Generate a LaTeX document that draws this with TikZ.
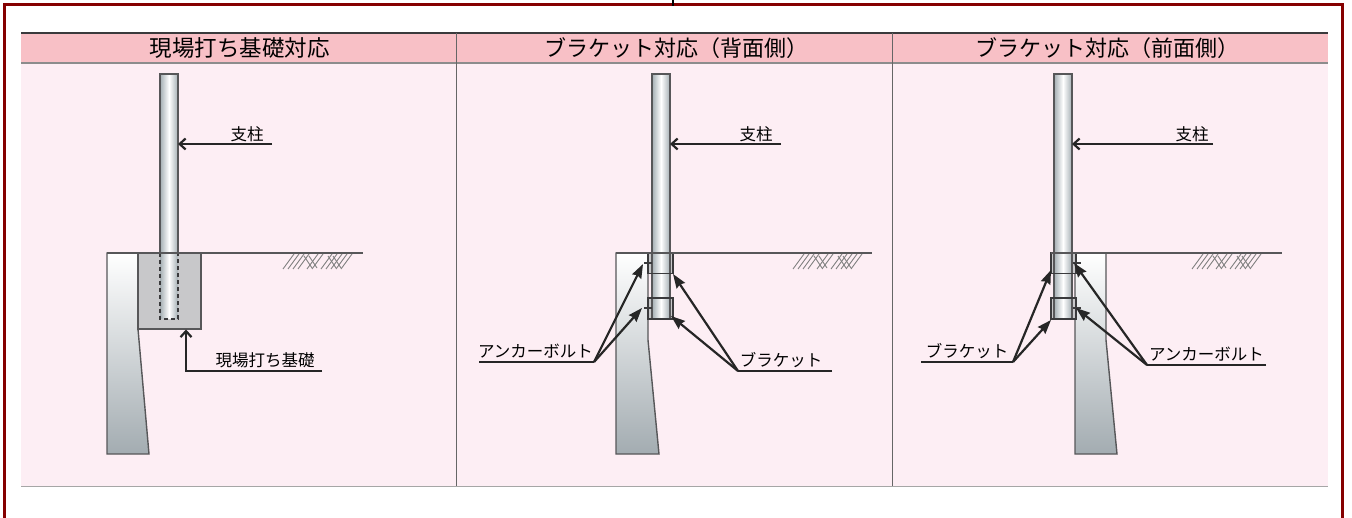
\documentclass[tikz,border=0pt]{standalone}
\usepackage{fontspec}
\newfontfamily\jpfont{Noto Sans CJK JP}
\usetikzlibrary{arrows,arrows.meta,positioning}
\definecolor{framered}{HTML}{850000}
\definecolor{headpink}{HTML}{F8C0C6}
\definecolor{bodypink}{HTML}{FDEEF4}
\definecolor{concrete}{HTML}{C8C8CA}
\definecolor{linegray}{HTML}{3A3A3C}
\definecolor{postgray}{HTML}{A4AEB3}
\definecolor{wallgray}{HTML}{A3ACB1}

\newcommand{\hatchmark}[1]{%
  \foreach \hx in {0,5,10,15,24,29,38,43,48,53,58}
    \draw[hatch] (#1+\hx,269) -- (#1+\hx+11,254);
  \foreach \hx in {21,26,45,50}
    \draw[hatch] (#1+\hx,256) -- (#1+\hx+8,268);
}
\newcommand{\postbar}[3]{%
  \fill[left color=postgray,right color=postgray,middle color=white] (#1,#2) rectangle (#1+18,#3);
  \draw[line width=1.4pt,linegray!85] (#1,#3) |- (#1+18,#2) -- (#1+18,#3);
}

\begin{document}
\begin{tikzpicture}[x=1pt,y=-1pt,>=stealth',font=\jpfont]
  \tikzstyle{lead}=[line width=2.2pt,black!85]
  \tikzstyle{pointer}=[lead,-{Stealth[length=14pt,width=10pt,inset=1.5pt]}]
  \tikzstyle{open pointer}=[lead,-{Straight Barb[length=6pt,width=11pt]}]
  \tikzstyle{hatch}=[line width=.9pt,black!50]
  \tikzstyle{wall}=[line width=1.4pt,linegray!85,shade,shading angle=150,top color=white,bottom color=wallgray]
  \tikzstyle{bracket}=[line width=1.1pt,linegray]
  \tikzstyle{ground}=[line width=1.4pt,linegray!85]
  \tikzstyle{title}=[font=\jpfont\fontsize{22}{24}\selectfont,inner sep=0pt]
  \tikzstyle{label}=[font=\jpfont\fontsize{16.5}{18}\selectfont,inner sep=0pt]

  \useasboundingbox (0,0) rectangle (1352,518);
  \fill[white] (0,0) rectangle (1352,518);

  % table
  \fill[bodypink] (21,63) rectangle (1328,486);
  \fill[headpink] (21,33) rectangle (1328,63);
  \draw[line width=1.1pt,linegray] (21,33) -- (1328,33);
  \draw[line width=1.2pt,black!45] (21,63) -- (1328,63);
  \draw[line width=1.2pt,black!35] (21,486.5) -- (1328,486.5);
  \draw[line width=.9pt,black!60] (456.5,33) -- (456.5,486);
  \draw[line width=.9pt,black!60] (892.5,33) -- (892.5,486);

  \node[title] (head1) at (239.5,48) {\fontsize{22.5}{24}\selectfont 現場打ち基礎対応};
  \node[title] (head2) at (676.5,48) {ブラケット対応（背面側）};
  \node[title] (head3) at (1107,48) {ブラケット対応（前面側）};

  % left panel
  \draw[wall] (107,454) -- (107,253) -- (138,253) -- (138,329) -- (149,454) -- cycle;
  \postbar{160}{74}{253}
  \fill[concrete] (138,253) rectangle (201,329);
  \draw[line width=1.4pt,linegray!85] (138,253) rectangle (201,329);
  \fill[left color=postgray,right color=postgray,middle color=white] (160,253) rectangle (178,319);
  \draw[line width=1.4pt,dash pattern=on 4pt off 3pt,linegray] (160,253) -- (160,319) -- (178,319) -- (178,253);
  \draw[ground] (107,253) -- (363,253);
  \hatchmark{283}

  \coordinate (post1) at (178,144);
  \coordinate (post1end) at (272,144);
  \node[label] (name1) at (247,134) {支柱};
  \draw[open pointer] (post1end) -- (post1);

  \coordinate (base) at (186,329.5);
  \coordinate (basebend) at (186,371);
  \coordinate (baseend) at (322,371);
  \node[label] (basename) at (265,360.5) {現場打ち基礎};
  \draw[open pointer] (baseend) -- (basebend) -- (base);

  % middle panel
  \draw[wall] (616,454) -- (616,253) -- (648,253) -- (648,340) -- (659,454) -- cycle;
  \fill[concrete] (648,253) rectangle (673,273.5);
  \fill[concrete] (648,298) rectangle (673,319);
  \postbar{652}{74}{319}
  \draw[bracket] (648,253) rectangle (673,273.5);
  \draw[bracket] (648,298) rectangle (673,319);
  \draw[ground] (616,253) -- (872,253);
  \draw[bracket] (644,263) -- (652,263);
  \draw[bracket] (644,308) -- (652,308);
  \hatchmark{793}

  \coordinate (post2) at (670,144);
  \coordinate (post2end) at (781,144);
  \node[label] (name2) at (756,134) {支柱};
  \draw[open pointer] (post2end) -- (post2);

  \coordinate (bolt2a) at (643,264);
  \coordinate (bolt2b) at (642,308);
  \coordinate (bolt2bend) at (594,362);
  \coordinate (bolt2end) at (479,362);
  \node[label] (boltname2) at (535.5,351) {アンカーボルト};
  \draw[lead] (bolt2end) -- (bolt2bend);
  \draw[pointer] (bolt2bend) -- (bolt2a);
  \draw[pointer] (bolt2bend) -- (bolt2b);

  \coordinate (bracket2a) at (673,274);
  \coordinate (bracket2b) at (671,316);
  \coordinate (bracket2bend) at (738,371);
  \coordinate (bracket2end) at (832,371);
  \node[label] (bracketname2) at (781,360) {ブラケット};
  \draw[lead] (bracket2end) -- (bracket2bend);
  \draw[pointer] (bracket2bend) -- (bracket2a);
  \draw[pointer] (bracket2bend) -- (bracket2b);

  % right panel
  \draw[wall] (1117,454) -- (1106,340) -- (1106,253) -- (1075,253) -- (1075,454) -- cycle;
  \fill[concrete] (1051,253) rectangle (1076,273.5);
  \fill[concrete] (1051,298) rectangle (1076,319);
  \postbar{1054}{74}{319}
  \draw[bracket] (1051,253) rectangle (1076,273.5);
  \draw[bracket] (1051,298) rectangle (1076,319);
  \draw[ground] (1051,253) -- (1282,253);
  \draw[bracket] (1073,263) -- (1081,263);
  \draw[bracket] (1073,308) -- (1081,308);
  \hatchmark{1192}

  \coordinate (post3) at (1072,144);
  \coordinate (post3end) at (1213,144);
  \node[label] (name3) at (1192,134) {支柱};
  \draw[open pointer] (post3end) -- (post3);

  \coordinate (bracket3a) at (1051,270);
  \coordinate (bracket3b) at (1051,320);
  \coordinate (bracket3bend) at (1013,362);
  \coordinate (bracket3end) at (921,362);
  \node[label] (bracketname3) at (967,351) {ブラケット};
  \draw[lead] (bracket3end) -- (bracket3bend);
  \draw[pointer] (bracket3bend) -- (bracket3a);
  \draw[pointer] (bracket3bend) -- (bracket3b);

  \coordinate (bolt3a) at (1074,263);
  \coordinate (bolt3b) at (1076,308);
  \coordinate (bolt3bend) at (1147,365);
  \coordinate (bolt3end) at (1266,365);
  \node[label] (boltname3) at (1206.5,354) {アンカーボルト};
  \draw[lead] (bolt3end) -- (bolt3bend);
  \draw[pointer] (bolt3bend) -- (bolt3a);
  \draw[pointer] (bolt3bend) -- (bolt3b);

  % outer frame
  \draw[framered,line width=3pt] (4.5,518) -- (4.5,4.5) -- (1342.5,4.5) -- (1342.5,518);
  \draw[black,line width=2pt] (673,0) -- (673,6);
\end{tikzpicture}
\end{document}
